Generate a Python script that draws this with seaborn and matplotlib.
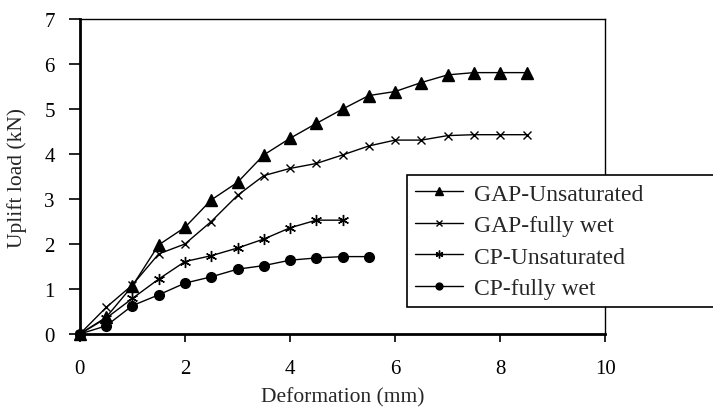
import matplotlib
matplotlib.use("Agg")
import matplotlib.pyplot as plt
import seaborn as sns
import pandas as pd

# deformation steps (mm)
defo_gap = [0, 0.5, 1, 1.5, 2, 2.5, 3, 3.5, 4, 4.5, 5, 5.5, 6, 6.5, 7, 7.5, 8, 8.5]
defo_cp_unsat = [0, 0.5, 1, 1.5, 2, 2.5, 3, 3.5, 4, 4.5, 5]
defo_cp_wet = [0, 0.5, 1, 1.5, 2, 2.5, 3, 3.5, 4, 4.5, 5, 5.5]

# uplift load (kN)
gap_unsat = [0, 0.37, 1.07, 1.98, 2.37, 2.98, 3.37, 3.98, 4.35, 4.68, 5.0, 5.3, 5.39, 5.59, 5.76, 5.81, 5.81, 5.81]
gap_wet = [0, 0.59, 1.09, 1.78, 2.0, 2.5, 3.08, 3.52, 3.68, 3.79, 3.98, 4.18, 4.31, 4.31, 4.41, 4.43, 4.43, 4.43]
cp_unsat = [0, 0.35, 0.79, 1.22, 1.61, 1.74, 1.91, 2.11, 2.36, 2.53, 2.53]
cp_wet = [0, 0.18, 0.63, 0.87, 1.13, 1.27, 1.44, 1.52, 1.64, 1.69, 1.72, 1.72]

series_names = ["GAP-Unsaturated", "GAP-fully wet", "CP-Unsaturated", "CP-fully wet"]

sns.set_style("ticks")
plt.rcParams['font.family'] = ['Liberation Serif', 'DejaVu Serif']

fig = plt.figure(figsize=(7.13, 4.10), dpi=100)
ax = fig.add_axes([0.112, 0.183, 0.737, 0.768])

frames = [
    pd.DataFrame({'x': defo_gap, 'y': gap_unsat}),
    pd.DataFrame({'x': defo_gap, 'y': gap_wet}),
    pd.DataFrame({'x': defo_cp_unsat, 'y': cp_unsat}),
    pd.DataFrame({'x': defo_cp_wet, 'y': cp_wet}),
]
markers = ['^', 'x', (6, 2, 0), 'o']
sizes = [9, 6, 8, 7]

for df, name, m, s in zip(frames, series_names, markers, sizes):
    sns.lineplot(data=df, x='x', y='y', ax=ax, color='black', linewidth=1.0,
                 marker=m, markersize=s, markeredgewidth=1.0,
                 markeredgecolor='black', markerfacecolor='black', label=name,
                 clip_on=False, zorder=3)

ax.set_xlim(0, 10)
ax.set_ylim(0, 7)
ax.set_xticks([0, 2, 4, 6, 8, 10])
ax.set_yticks(range(8))
ax.set_xlabel("Deformation (mm)", fontsize=15.5)
ax.set_ylabel("Uplift load (kN)", fontsize=15.5)
ax.xaxis.set_label_coords(0.5, -0.17)
ax.yaxis.set_label_coords(-0.1, 0.5)

ax.tick_params(axis='x', direction='out', length=6, width=1.2, pad=12, labelsize=15, colors='black')
ax.tick_params(axis='y', direction='out', length=8, width=1.2, pad=10, labelsize=15, colors='black')

for side in ['left', 'bottom']:
    ax.spines[side].set_linewidth(2.0)
    ax.spines[side].set_color('black')
for side in ['top', 'right']:
    ax.spines[side].set_linewidth(1.0)
    ax.spines[side].set_color('black')
    ax.spines[side].set_visible(True)

# legend box runs past the right edge of the figure, as in the original
leg = ax.legend(loc='upper left', bbox_to_anchor=(0.571, 0.246, 0.5, 0.325),
                bbox_transform=fig.transFigure, mode='expand', borderaxespad=0,
                fontsize=17, frameon=True, fancybox=False, framealpha=1,
                edgecolor='black', borderpad=0.35, labelspacing=0.42,
                handlelength=2.0, handletextpad=0.5, markerscale=0.7)
leg.get_frame().set_linewidth(1.2)
leg.set_zorder(10)

fig.savefig("out.png", dpi=100)
